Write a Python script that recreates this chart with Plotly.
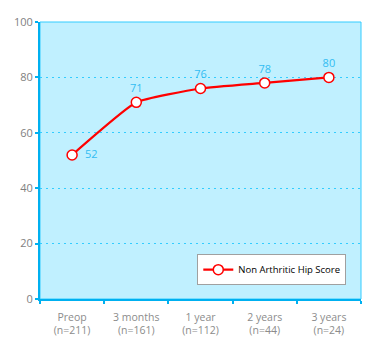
import plotly.graph_objects as go

categories = ["Preop<br>(n=211)", "3 months<br>(n=161)", "1 year<br>(n=112)", "2 years<br>(n=44)", "3 years<br>(n=24)"]
scores = [52, 71, 76, 78, 80]
label_text = ["  52", "71", "76", "78", "80"]
label_pos = ["middle right", "top center", "top center", "top center", "top center"]
y_ticks = [0, 20, 40, 60, 80, 100]

fig = go.Figure()
fig.add_trace(go.Scatter(
    x=categories, y=scores, mode="lines+markers+text",
    name="Non Arthritic Hip Score",
    line=dict(color="#FF0000", width=2.2, shape="spline", smoothing=0.4),
    marker=dict(symbol="circle", size=10, color="white", line=dict(color="#FF0000", width=1.5)),
    text=label_text, textposition=label_pos,
    textfont=dict(color="#33BDF2", size=11, family="Open Sans"),
    cliponaxis=False,
))

fig.update_layout(
    width=380, height=353,
    margin=dict(l=40, r=19, t=22, b=54),
    paper_bgcolor="white", plot_bgcolor="#C0F0FF",
    font=dict(family="Open Sans", size=10, color="#7F7F7F"),
    showlegend=True,
    legend=dict(x=0.49, y=0.05, xanchor="left", yanchor="bottom",
                bgcolor="white", bordercolor="#A0A0A0", borderwidth=1,
                font=dict(color="black", size=9.5, family="Open Sans"),
                itemwidth=30, tracegroupgap=0),
    xaxis=dict(range=[-0.5, 4.5], showgrid=False, showline=True, linecolor="#00B0F0", linewidth=2,
               ticks="outside", tickcolor="#00B0F0", ticklen=3, tickwidth=2,
               tickson="boundaries", ticklabelstandoff=7, tickfont=dict(size=10.5, color="#8C8C8C")),
    yaxis=dict(range=[0, 100], tickvals=y_ticks, showgrid=True, gridcolor="#33CCFF",
               griddash="2px,4px", gridwidth=1, showline=True, linecolor="#00B0F0", linewidth=2,
               ticks="outside", tickcolor="#00B0F0", ticklen=3, tickwidth=2,
               zeroline=False, tickfont=dict(size=11, color="#7F7F7F")),
)
fig.add_shape(type="rect", xref="paper", yref="paper", x0=0, y0=0, x1=1, y1=1,
              line=dict(color="#33CCFF", width=1), layer="below")

fig.write_html("out.html")
